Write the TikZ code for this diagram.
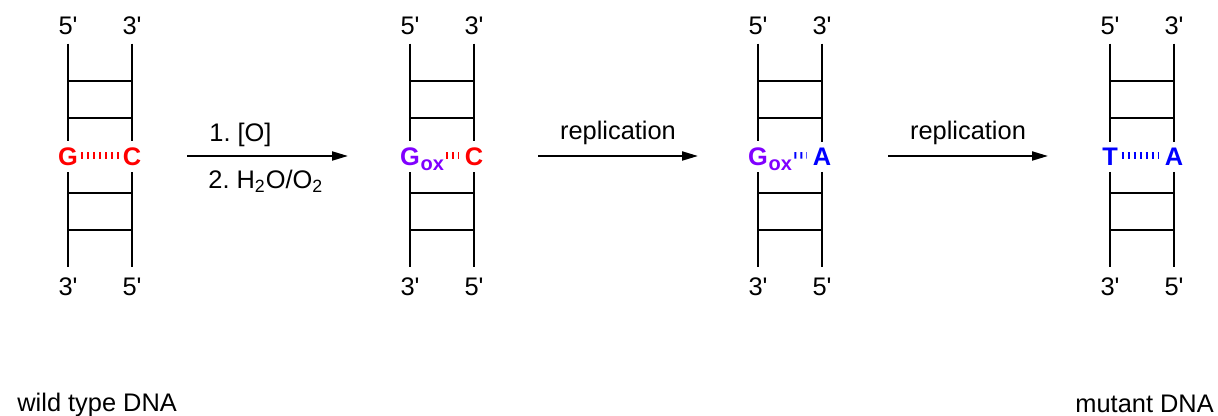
\documentclass[tikz,border=0pt]{standalone}
\usepackage{fontspec}
\newfontfamily\arial{Liberation Sans}
\usetikzlibrary{arrows.meta}
\definecolor{gred}{RGB}{255,0,0}
\definecolor{gox}{RGB}{128,0,255}
\definecolor{gblue}{RGB}{0,0,255}
\frenchspacing
\begin{document}
\begin{tikzpicture}[x=0.5pt,y=-0.5pt,
  txt/.style={font=\arial\fontsize{12.7}{14}\selectfont, inner sep=0pt},
  toplbl/.style={txt, anchor=base, inner xsep=0pt, inner ysep=4pt},
  botlbl/.style={txt, anchor=base, inner xsep=0pt, inner ysep=5pt},
  basel/.style={font=\arial\bfseries\fontsize{12.7}{14}\selectfont, inner xsep=0pt, inner ysep=3pt, anchor=base},
  subl/.style={font=\arial\bfseries\fontsize{10}{12}\selectfont, inner sep=0pt, anchor=base west},
  strand/.style={line width=0.9pt},
  rung/.style={line width=0.9pt},
  hash/.style={line width=3.2pt, dash pattern=on 1pt off 2pt, transform canvas={yshift=0.7pt}},
  rxn/.style={line width=1pt, -{Triangle[length=8pt,width=4.5pt]}},
]
\useasboundingbox (0,0) rectangle (1218,416);
% base letters
\node[basel, gred] (g1) at (68,165.5) {G};
\node[basel, gred] (c1) at (132,165.5) {C};
\node[basel, gox] (g2) at (410,165.5) {G};
\node[subl, gox] (ox2) at ([yshift=-2.5pt]g2.base east) {ox};
\node[basel, gred] (c2) at (474,165.5) {C};
\node[basel, gox] (g3) at (758,165.5) {G};
\node[subl, gox] (ox3) at ([yshift=-2.5pt]g3.base east) {ox};
\node[basel, gblue] (c3) at (822,165.5) {A};
\node[basel, gblue] (g4) at (1110,165.5) {T};
\node[basel, gblue] (c4) at (1174,165.5) {A};
% ladders
\foreach \i/\xl/\xr in {1/68/132, 2/410/474, 3/758/822, 4/1110/1174} {
  \node[toplbl] (t5\i) at (\xl,35) {5'};
  \node[toplbl] (t3\i) at (\xr,35) {3'};
  \node[botlbl] (b3\i) at (\xl,295) {3'};
  \node[botlbl] (b5\i) at (\xr,295) {5'};
  \draw[strand] (t5\i.south) -- (g\i.north);
  \draw[strand] (g\i.south) -- (b3\i.north);
  \draw[strand] (t3\i.south) -- (c\i.north);
  \draw[strand] (c\i.south) -- (b5\i.north);
  \foreach \y in {81,118,193,230} \draw[rung] (\xl,\y) -- (\xr,\y);
}
% hydrogen bonds
\draw[hash, gred, shorten <=1.5pt, shorten >=1.9pt] (g1.east) -- (c1.west);
\draw[hash, gred, shorten <=1pt, shorten >=2.75pt] (ox2.east |- g2.east) -- (c2.west);
\draw[hash, gblue, shorten <=1pt, shorten >=2.75pt] (ox3.east |- g3.east) -- (c3.west);
\draw[hash, gblue, shorten <=1.7pt, shorten >=2.75pt] (g4.east) -- (c4.west);
% reaction arrows
\coordinate (a1s) at (187,156); \coordinate (a1e) at (348,156);
\coordinate (a2s) at (538,156); \coordinate (a2e) at (698,156);
\coordinate (a3s) at (888,156); \coordinate (a3e) at (1048,156);
\draw[rxn] (a1s) -- (a1e);
\draw[rxn] (a2s) -- (a2e);
\draw[rxn] (a3s) -- (a3e);
\node[txt, anchor=base west] (r1a) at (209,141.5) {1. [O]};
\node[txt, anchor=base west] (r1b) at (208,188.5) {2. H\textsubscript{2}O/O\textsubscript{2}};
\node[txt, anchor=base] (r2) at (618,139.5) {replication};
\node[txt, anchor=base] (r3) at (968,139.5) {replication};
% captions
\node[txt, anchor=base west] (wt) at (17,411) {wild type DNA};
\node[txt, anchor=base west] (mt) at (1075,412.5) {mutant DNA};
\end{tikzpicture}
\end{document}
